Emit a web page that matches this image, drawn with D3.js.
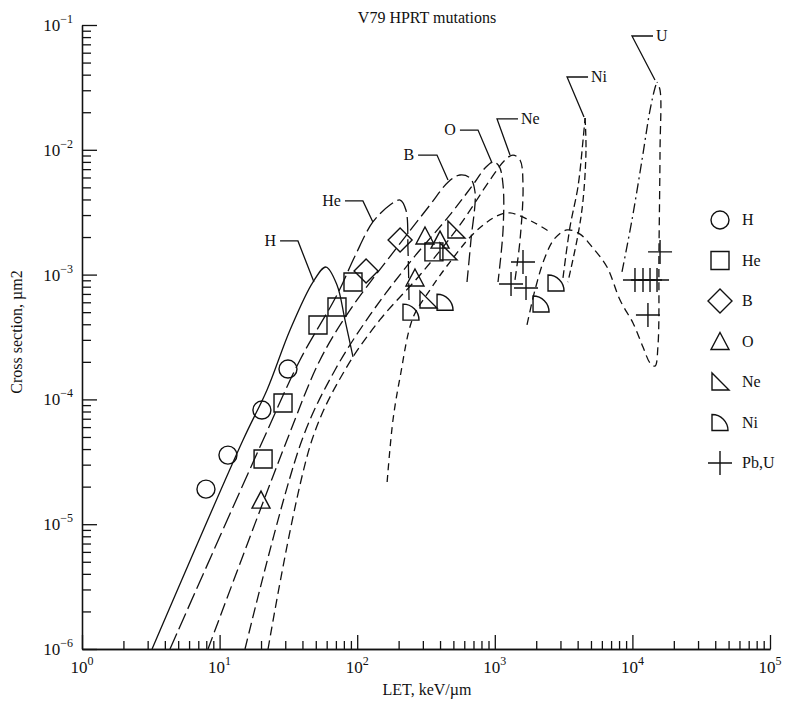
<!DOCTYPE html>
<html><head><meta charset="utf-8">
<script src="https://cdn.jsdelivr.net/npm/d3@7/dist/d3.min.js"></script>
<style>
body{margin:0;background:#fff;}
text{font-family:"Liberation Serif","Times New Roman",serif;fill:#111;}
</style></head>
<body><svg id="c" width="787" height="702"></svg>
<script>
// ---- data ----
const xTickExps = [0,1,2,3,4,5];
const yTickExps = [-6,-5,-4,-3,-2,-1];
const title = "V79 HPRT mutations";
const xLabel = "LET, keV/\u00b5m";
const yLabel = "Cross section, \u00b5m2";

// model curves [LET, cross section]
const curveH  = [[3.23,1e-6],[14.8,4.73e-5],[22.1,1.19e-4],[32.5,3.6e-4],[47.7,8.72e-4],[59.3,1.15e-3],[71.3,8.26e-4],[81.5,4.33e-4],[93.2,2.19e-4]];
const curveHe = [[4.36,1e-6],[20.7,4.73e-5],[38.4,2.07e-4],[71.3,6.87e-4],[96.4,1.41e-3],[130,2.64e-3],[173,3.61e-3],[205,3.96e-3],[226,3.29e-3],[234,1.57e-3],[238,6.25e-4]];
const curveB  = [[8.24,1e-6],[30.9,4.73e-5],[53.7,2.07e-4],[88.6,5.2e-4],[188,1.57e-3],[338,3.61e-3],[457,5.5e-3],[558,6.28e-3],[661,5.94e-3],[718,4.59e-3],[671,1.89e-3],[628,8.72e-4]];
const curveO  = [[15.3,1e-6],[39.7,4.73e-5],[69.0,1.72e-4],[124,4.75e-4],[242,1.26e-3],[472,3.01e-3],[718,5.52e-3],[849,7.15e-3],[970,7.98e-3],[1073,7.41e-3],[1148,5.22e-3],[1148,2.28e-3],[1055,8.72e-4]];
const curveNe = [[22.5,1e-6],[46.9,4.73e-5],[81.5,1.72e-4],[146,4.33e-4],[286,9.93e-4],[558,2.5e-3],[923,5.73e-3],[1186,8.28e-3],[1356,9.08e-3],[1525,8.28e-3],[1603,5.22e-3],[1525,1.89e-3],[1402,9.06e-4]];
const curveBroad = [[165,2.18e-5],[182,6.84e-5],[205,1.51e-4],[254,4.49e-4],[338,7.53e-4],[472,1.26e-3],[718,2.19e-3],[1038,2.95e-3],[1290,3.12e-3],[1895,2.64e-3],[2518,2.19e-3]];
const curveArc = [[1714,3.95e-4],[1959,7.53e-4],[2317,1.38e-3],[2739,1.96e-3],[3350,2.28e-3],[4160,2.11e-3],[5170,1.63e-3],[6540,1.15e-3],[8130,6.25e-4],[10100,4.09e-4],[11940,2.63e-4],[13430,1.96e-4],[14590,1.85e-4],[15350,2.73e-4],[15600,1.57e-3],[15880,9.96e-3],[15880,3.01e-2],[15100,3.49e-2]];
const curveU  = [[8400,1.05e-3],[9930,2.74e-3],[11740,8.28e-3],[13430,2.08e-2],[14590,3.13e-2],[15100,3.49e-2]];
const curveNiL = [[3130,9.4e-4],[3520,2.41e-3],[4020,5.04e-3],[4380,1.2e-2],[4530,1.8e-2]];
const curveNiR = [[4530,1.8e-2],[4600,9.96e-3],[4380,3.96e-3],[4020,2.07e-3],[3400,8.72e-4]];

// measured points
const ptsH  = [[7.96,1.91e-5],[11.5,3.58e-5],[20.3,8.22e-5],[31.4,1.75e-4]];
const ptsHe = [[20.7,3.33e-5],[28.9,9.36e-5],[51.9,3.95e-4],[71.3,5.5e-4],[93.2,8.72e-4],[361,1.52e-3]];
const ptsB  = [[116,1.07e-3],[205,1.89e-3]];
const ptsO  = [[20.0,1.56e-5],[263,9.4e-4],[311,2.04e-3],[400,1.89e-3]];
const ptsNe = [[327,6.25e-4],[522,2.28e-3],[457,1.52e-3]];
const ptsNi = [[246,5.0e-4],[435,6.0e-4],[2168,5.81e-4],[2786,8.57e-4]];
const ptsPbU = [[1603,1.26e-3],[1312,8.4e-4],[1686,7.81e-4],[15880,1.52e-3],[10440,9.06e-4],[11940,9.06e-4],[13430,9.06e-4],[15100,9.06e-4],[12970,4.75e-4]];

// curve annotations: text, side, leader points [LET, sigma]
const curveLabels = [
  {t:"H",  side:"left",  pts:[[27.5,1.86e-3],[37.1,1.86e-3],[48.5,8.72e-4]]},
  {t:"He", side:"left",  pts:[[81.5,3.89e-3],[110,3.89e-3],[130,2.64e-3]]},
  {t:"B",  side:"left",  pts:[[277,9.08e-3],[380,9.08e-3],[457,5.73e-3]]},
  {t:"O",  side:"left",  pts:[[558,1.44e-2],[755,1.44e-2],[955,7.84e-3]]},
  {t:"Ne", side:"right", pts:[[1474,1.77e-2],[1038,1.77e-2],[1290,9.08e-3]]},
  {t:"Ni", side:"right", pts:[[4760,3.83e-2],[3350,3.83e-2],[4450,1.83e-2]]},
  {t:"U",  side:"right", pts:[[14120,8.16e-2],[9930,8.16e-2],[14590,3.62e-2]]}
];
const legendNames = ["H","He","B","O","Ne","Ni","Pb,U"];

// ---- drawing ----
const svg = d3.select("#c");
const x = d3.scaleLog().domain([1,1e5]).range([82,770]);
const y = d3.scaleLog().domain([1e-6,1e-1]).range([649,25]);
const ink = "#111";

const xMajor = xTickExps.map(e=>Math.pow(10,e));
const yMajor = yTickExps.map(e=>Math.pow(10,e));
const xMinor = [], yMinor = [];
for (let e=0;e<5;e++) for (let k=2;k<10;k++) xMinor.push(k*Math.pow(10,e));
for (let e=-6;e<-1;e++) for (let k=2;k<10;k++) yMinor.push(k*Math.pow(10,e));

function styleAxis(g){ g.selectAll("path,line").attr("stroke",ink).attr("stroke-width",1.3); g.selectAll("text").remove(); }

svg.append("g").attr("transform","translate(0,649)")
  .call(d3.axisBottom(x).tickValues(xMinor).tickSizeInner(-8).tickSizeOuter(0).tickFormat("")).call(styleAxis);
const gx = svg.append("g").attr("transform","translate(0,649)")
  .call(d3.axisBottom(x).tickValues(xMajor).tickSizeInner(-14).tickSizeOuter(0).tickFormat("")).call(styleAxis);
svg.append("g").attr("transform","translate(82,0)")
  .call(d3.axisLeft(y).tickValues(yMinor).tickSizeInner(-9).tickSizeOuter(0).tickFormat("")).call(styleAxis);
const gy = svg.append("g").attr("transform","translate(82,0)")
  .call(d3.axisLeft(y).tickValues(yMajor).tickSizeInner(-15).tickSizeOuter(0).tickFormat("")).call(styleAxis);

xTickExps.forEach(e=>{
  const t = svg.append("text").attr("x",x(Math.pow(10,e))).attr("y",673).attr("text-anchor","middle").style("font-size","17px");
  t.append("tspan").text("10");
  t.append("tspan").attr("dy",-8).style("font-size","12px").text(String(e));
});
yTickExps.forEach(e=>{
  const t = svg.append("text").attr("x",73).attr("y",y(Math.pow(10,e))+6).attr("text-anchor","end").style("font-size","17px");
  t.append("tspan").text("10");
  t.append("tspan").attr("dy",-8).style("font-size","12px").text("\u2212"+Math.abs(e));
});

svg.append("text").attr("x",427).attr("y",23).attr("text-anchor","middle").style("font-size","16px").text(title);
svg.append("text").attr("x",427).attr("y",695).attr("text-anchor","middle").style("font-size","16px").text(xLabel);
svg.append("text").attr("transform","translate(22,332) rotate(-90)").attr("text-anchor","middle").style("font-size","16px").text(yLabel);

const line = d3.line().x(d=>x(d[0])).y(d=>y(d[1])).curve(d3.curveCatmullRom.alpha(0.5));
const curves = [
  [curveH,null],[curveHe,"17,5"],[curveB,"13,5"],[curveO,"11,5"],[curveNe,"9,5"],
  [curveBroad,"7,5"],[curveArc,"8,5"],[curveU,"10,4,2,4"],[curveNiL,"8,4"],[curveNiR,"7,4"]
];
curves.forEach(([d,dash])=>{
  const p = svg.append("path").attr("d",line(d)).attr("fill","none").attr("stroke",ink).attr("stroke-width",1.3);
  if (dash) p.attr("stroke-dasharray",dash);
});

// annotations
const straight = d3.line().x(d=>x(d[0])).y(d=>y(d[1]));
curveLabels.forEach(l=>{
  svg.append("path").attr("d",straight(l.pts)).attr("fill","none").attr("stroke",ink).attr("stroke-width",1.3);
  const p0 = l.pts[0];
  svg.append("text").attr("x",x(p0[0])+(l.side==="left"?-4:3)).attr("y",y(p0[1])+5)
    .attr("text-anchor",l.side==="left"?"end":"start").style("font-size","16px").text(l.t);
});

// marker shapes centred at 0,0
const shapes = {
  circle: "M9,0A9,9 0 1,1 -9,0A9,9 0 1,1 9,0Z",
  square: "M-9,-9H9V9H-9Z",
  diamond: "M0,-12L12,0L0,12L-12,0Z",
  triangle: "M0,-9L9,8H-9Z",
  rtri: "M-8,-9V8H9Z",
  quarter: "M-8,-8V8H8A16,16 0 0,0 -8,-8Z",
  cross: "M-12,0H12M0,-12V12"
};
const groups = [[ptsH,"circle"],[ptsHe,"square"],[ptsB,"diamond"],[ptsO,"triangle"],[ptsNe,"rtri"],[ptsNi,"quarter"],[ptsPbU,"cross"]];
groups.forEach(([pts,s])=>{
  svg.append("g").selectAll("path").data(pts).join("path")
    .attr("transform",d=>`translate(${x(d[0])},${y(d[1])})`)
    .attr("d",shapes[s]).attr("fill","none").attr("stroke",ink).attr("stroke-width",1.4);
});

// legend
const lg = svg.append("g");
groups.forEach(([pts,s],i)=>{
  const yy = 220 + i*40.5;
  lg.append("path").attr("transform",`translate(720,${yy})`).attr("d",shapes[s]).attr("fill","none").attr("stroke",ink).attr("stroke-width",1.4);
  lg.append("text").attr("x",742).attr("y",yy+5).style("font-size","16px").text(legendNames[i]);
});
</script></body></html>
